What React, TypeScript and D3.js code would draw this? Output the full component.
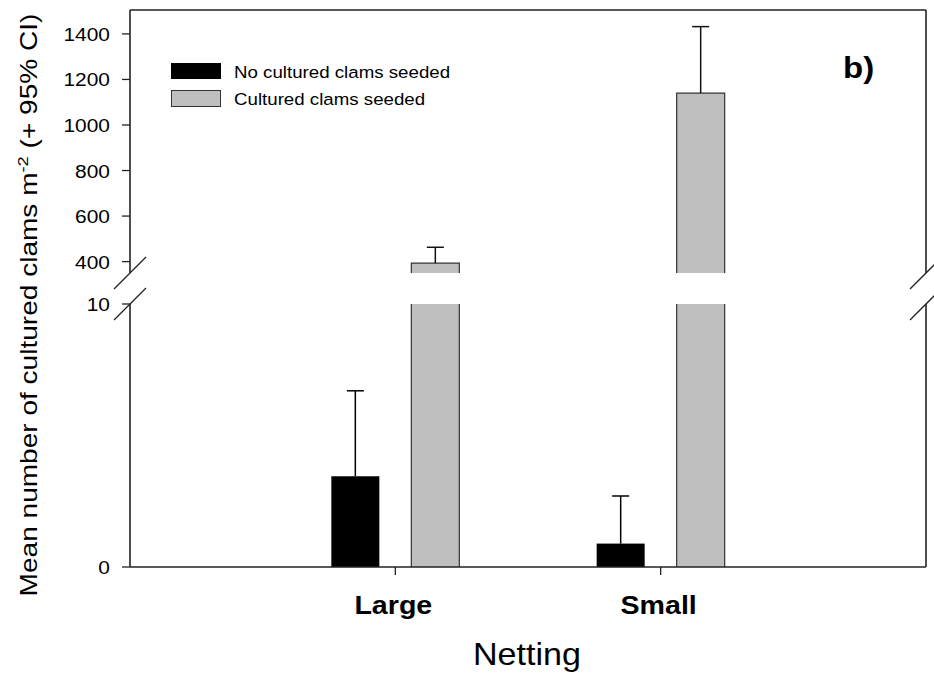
import React from "react";
import * as d3 from "d3";

const groups = ["Large", "Small"];
const series = ["No cultured clams seeded", "Cultured clams seeded"];
const noSeedMean = [3.45, 0.89];
const noSeedUpper = [6.7, 2.7];
const seedMean = [393, 1140];
const seedUpper = [463, 1432];
const upperTicks = [400, 600, 800, 1000, 1200, 1400];
const lowerTicks = [0, 10];

const W = 934;
const H = 675;
const L = 130;
const R = 926;
const TOP = 10;
const BOT = 567;
const BREAK_HI = 273;
const BREAK_LO = 304;
const FONT = "'Liberation Sans', Arial, Helvetica, sans-serif";
const SX = 1.1;
const GRAY = "#bfbfbf";

const x = d3.scaleBand<string>().domain(groups).range([L, R]).paddingInner(0).paddingOuter(0.5);
const xSub = d3.scaleBand<string>().domain(series).range([-64, 64]).paddingInner(0.4);
const yLow = d3.scaleLinear().domain([0, 10]).range([BOT, BREAK_LO]);
const yHigh = d3.scaleLinear().domain([350, 1505]).range([BREAK_HI, TOP]);

function T({ x, y, size, anchor = "start", weight = "normal", children }: any) {
  return (
    <text
      transform={`translate(${x},${y}) scale(${SX},1)`}
      fontSize={size}
      fontFamily={FONT}
      textAnchor={anchor}
      fontWeight={weight}
      fill="#000"
    >
      {children}
    </text>
  );
}

export default function App() {
  const bw = xSub.bandwidth();
  const cap = 8.5;
  const breakMarks = (cx: number) => (
    <g stroke="#222" strokeWidth={1.3}>
      <line x1={cx - 16} y1={BREAK_HI + 16} x2={cx + 16} y2={BREAK_HI - 16} />
      <line x1={cx - 16} y1={BREAK_LO + 16} x2={cx + 16} y2={BREAK_LO - 16} />
    </g>
  );
  return (
    <svg width={W} height={H} style={{ position: "absolute", left: 0, top: 0, background: "#fff" }}>
      {/* bars */}
      {groups.map((g, i) => {
        const cx = x(g)! + x.bandwidth() / 2;
        const bx0 = cx + xSub(series[0])!;
        const bx1 = cx + xSub(series[1])!;
        const b0top = yLow(noSeedMean[i]);
        const b0err = yLow(noSeedUpper[i]);
        const b1top = yHigh(seedMean[i]);
        const b1err = yHigh(seedUpper[i]);
        return (
          <g key={g}>
            <rect x={bx0} y={b0top} width={bw} height={BOT - b0top} fill="#000" />
            <line x1={bx0 + bw / 2} x2={bx0 + bw / 2} y1={b0top} y2={b0err} stroke="#000" strokeWidth={1.5} />
            <line x1={bx0 + bw / 2 - cap} x2={bx0 + bw / 2 + cap} y1={b0err} y2={b0err} stroke="#000" strokeWidth={1.5} />
            {/* seeded: lower segment */}
            <rect x={bx1} y={BREAK_LO} width={bw} height={BOT - BREAK_LO} fill={GRAY} />
            <line x1={bx1} x2={bx1} y1={BREAK_LO} y2={BOT} stroke="#333" strokeWidth={1.2} />
            <line x1={bx1 + bw} x2={bx1 + bw} y1={BREAK_LO} y2={BOT} stroke="#333" strokeWidth={1.2} />
            {/* upper segment */}
            <rect x={bx1} y={b1top} width={bw} height={BREAK_HI - b1top} fill={GRAY} />
            <path d={`M${bx1},${BREAK_HI}V${b1top}H${bx1 + bw}V${BREAK_HI}`} fill="none" stroke="#333" strokeWidth={1.2} />
            <line x1={bx1 + bw / 2} x2={bx1 + bw / 2} y1={b1top} y2={b1err} stroke="#111" strokeWidth={1.5} />
            <line x1={bx1 + bw / 2 - cap} x2={bx1 + bw / 2 + cap} y1={b1err} y2={b1err} stroke="#111" strokeWidth={1.5} />
          </g>
        );
      })}

      {/* frame */}
      <g stroke="#222" strokeWidth={1.6} fill="none">
        <line x1={L} x2={R} y1={TOP} y2={TOP} />
        <line x1={L} x2={R} y1={BOT} y2={BOT} />
        <line x1={L} x2={L} y1={TOP} y2={BREAK_HI} />
        <line x1={L} x2={L} y1={BREAK_LO} y2={BOT} />
        <line x1={R} x2={R} y1={TOP} y2={BREAK_HI} />
        <line x1={R} x2={R} y1={BREAK_LO} y2={BOT} />
      </g>
      {breakMarks(L)}
      {breakMarks(R)}

      {/* y ticks */}
      {upperTicks.map((t) => (
        <g key={"u" + t}>
          <line x1={L - 8} x2={L} y1={yHigh(t)} y2={yHigh(t)} stroke="#222" strokeWidth={1.3} />
          <T x={L - 20} y={yHigh(t) + 7} size={19} anchor="end">{t}</T>
        </g>
      ))}
      {lowerTicks.map((t) => (
        <g key={"l" + t}>
          <line x1={L - 8} x2={L} y1={yLow(t)} y2={yLow(t)} stroke="#222" strokeWidth={1.3} />
          <T x={L - 20} y={yLow(t) + 7} size={19} anchor="end">{t}</T>
        </g>
      ))}

      {/* x ticks */}
      {groups.map((g) => {
        const cx = x(g)! + x.bandwidth() / 2;
        return (
          <g key={"x" + g}>
            <line x1={cx} x2={cx} y1={BOT} y2={BOT + 8} stroke="#222" strokeWidth={1.3} />
            <T x={cx - 2} y={614} size={26} anchor="middle" weight="bold">{g}</T>
          </g>
        );
      })}
      <T x={527} y={665} size={31} anchor="middle">Netting</T>

      {/* y title */}
      <text
        transform={`translate(37,305) rotate(-90) scale(1.22,1)`}
        fontSize={23}
        fontFamily={FONT}
        textAnchor="middle"
        fill="#000"
      >
        Mean number of cultured clams m
        <tspan dy={-9} fontSize={15}>-2</tspan>
        <tspan dy={9}> (+ 95% CI)</tspan>
      </text>

      {/* legend */}
      <rect x={171} y={63} width={50} height={16} fill="#000" />
      <rect x={171.5} y={90.5} width={49} height={16} fill={GRAY} stroke="#333" strokeWidth={1} />
      <T x={234} y={78} size={17}>{series[0]}</T>
      <T x={234} y={105} size={17}>{series[1]}</T>

      <T x={843} y={78} size={30} weight="bold">b)</T>
    </svg>
  );
}
